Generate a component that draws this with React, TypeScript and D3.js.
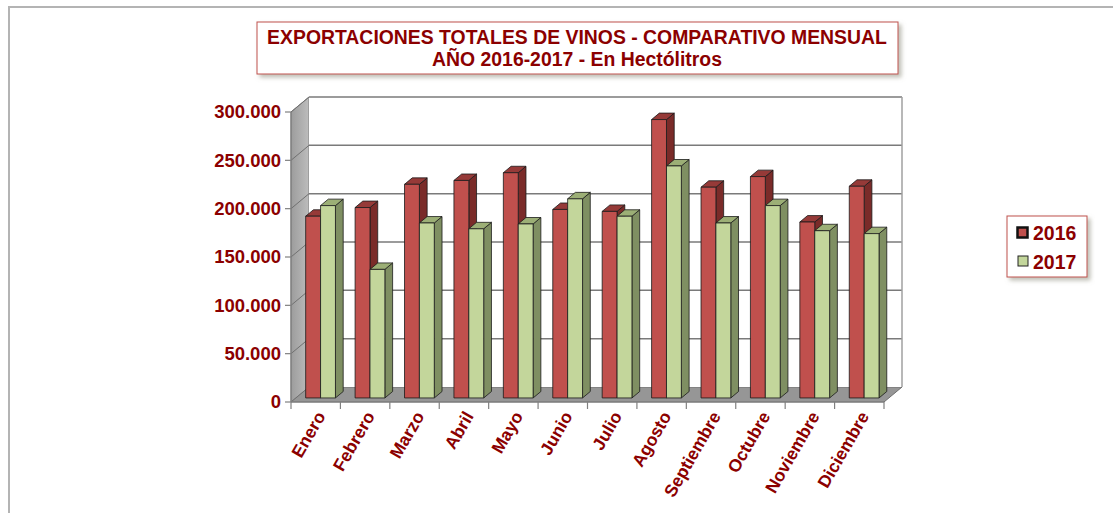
import React from 'react';
import * as d3 from 'd3';

const categories = ['Enero', 'Febrero', 'Marzo', 'Abril', 'Mayo', 'Junio', 'Julio', 'Agosto', 'Septiembre', 'Octubre', 'Noviembre', 'Diciembre'];
const seriesNames = ['2016', '2017'];
const values2016 = [188000, 197000, 221000, 225000, 233000, 195000, 193000, 288000, 218000, 229000, 182000, 219000];
const values2017 = [199000, 133000, 181000, 175000, 180000, 206000, 188000, 240000, 181000, 199000, 173000, 170000];
const yTicks = [0, 50000, 100000, 150000, 200000, 250000, 300000];
const titleLines = ['EXPORTACIONES TOTALES DE VINOS - COMPARATIVO MENSUAL', 'AÑO 2016-2017 - En Hectólitros'];

const W = 1113;
const H = 513;
const DX = 18;
const DY = 15;
const Z0 = 0.27;
const Z1 = 0.7;
const LABEL = '#8b0000';

const faceColors = [
  { front: '#c0504d', side: '#7a2b29', top: '#963a38' },
  { front: '#c3d69b', side: '#7f8f62', top: '#9caf76' },
];

const fmt = (v: number) => d3.format(',')(v).replace(/,/g, '.');

const App = () => {
  const x = d3.scaleBand().domain(categories).range([291, 884]);
  const inner = d3.scaleBand().domain(seriesNames).range([0, x.bandwidth()]).paddingInner(0).paddingOuter(0.66);
  const y = d3.scaleLinear().domain([0, 300000]).range([402, 112]);
  const vMax = 300000;

  const P = (px: number, v: number, z: number): [number, number] => [px + z * DX, y(v) - z * DY];
  const poly = (pts: [number, number][]) => d3.line()(pts) + 'Z';

  const x0 = 291;
  const x1 = 884;
  const series = [values2016, values2017];

  const bars: JSX.Element[] = [];
  categories.forEach((c, i) => {
    seriesNames.forEach((s, j) => {
      const v = series[j][i];
      const a = (x(c) as number) + (inner(s) as number);
      const b = a + inner.bandwidth();
      const col = faceColors[j];
      bars.push(
        <g key={c + s} stroke="#1a1a1a" strokeWidth={0.8} strokeLinejoin="round">
          <path d={poly([P(b, 0, Z0), P(b, 0, Z1), P(b, v, Z1), P(b, v, Z0)])} fill={col.side} />
          <path d={poly([P(a, v, Z0), P(b, v, Z0), P(b, v, Z1), P(a, v, Z1)])} fill={col.top} />
          <path d={poly([P(a, 0, Z0), P(b, 0, Z0), P(b, v, Z0), P(a, v, Z0)])} fill={col.front} />
        </g>
      );
    });
  });

  return (
    <svg width={W} height={H} style={{ position: 'absolute', left: 0, top: 0 }} fontFamily="'Liberation Sans', Arial, sans-serif">
      <defs>
        <linearGradient id="wall" x1="0" x2="1" y1="0" y2="0">
          <stop offset="0%" stopColor="#9c9c9c" />
          <stop offset="100%" stopColor="#bdbdbd" />
        </linearGradient>
        <filter id="shadow" x="-10%" y="-30%" width="120%" height="170%">
          <feDropShadow dx="3" dy="3" stdDeviation="2" floodColor="#8a8a7a" floodOpacity="0.55" />
        </filter>
      </defs>

      <rect x={0} y={0} width={W} height={H} fill="#fff" />
      <path d={`M9,${H} V7 H${W}`} fill="none" stroke="#b4b4b4" strokeWidth={2} />

      {/* title */}
      <rect x={257} y={22} width={641} height={52} fill="#fff" stroke="#c0504d" strokeWidth={1} filter="url(#shadow)" />
      {titleLines.map((t, i) => (
        <text key={t} x={577} y={44 + i * 22} textAnchor="middle" fontSize={19.4} fontWeight="bold" fill={LABEL}>{t}</text>
      ))}

      {/* walls */}
      <path d={poly([P(x0, 0, 0), P(x0, 0, 1), P(x0, vMax, 1), P(x0, vMax, 0)])} fill="url(#wall)" stroke="#808080" strokeWidth={1} />
      <path d={poly([P(x0, 0, 0), P(x1, 0, 0), P(x1, 0, 1), P(x0, 0, 1)])} fill="#969696" stroke="#6e6e6e" strokeWidth={1} />
      <path d={poly([P(x0, 0, 1), P(x1, 0, 1), P(x1, vMax, 1), P(x0, vMax, 1)])} fill="#fff" stroke="none" />
      {yTicks.filter(t => t > 0).map(t => (
        <g key={t} stroke="#7a7a7a" strokeWidth={1.5} fill="none">
          <path d={d3.line()([P(x0, t, 1), P(x1, t, 1)]) as string} />
          <path d={d3.line()([P(x0, t, 0), P(x0, t, 1)]) as string} strokeWidth={1} stroke="#707070" />
        </g>
      ))}
      <path d={d3.line()([P(x1, 0, 1), P(x1, vMax, 1)]) as string} stroke="#a0a0a0" strokeWidth={1.5} />

      {bars}

      {/* axes */}
      <g stroke="#808080" strokeWidth={1.2} fill="none">
        <line x1={x0} x2={x0} y1={y(0)} y2={y(vMax)} />
        {yTicks.map(t => <line key={t} x1={x0 - 6} x2={x0} y1={y(t)} y2={y(t)} />)}
        <line x1={x0} x2={x1} y1={y(0)} y2={y(0)} />
        {[...categories.map(c => x(c) as number), x1].map((px, i) => (
          <line key={i} x1={px} x2={px} y1={y(0)} y2={y(0) + 7} />
        ))}
      </g>
      {yTicks.map(t => (
        <text key={t} x={281} y={y(t)} dy="0.35em" textAnchor="end" fontSize={18.5} fontWeight="bold" fill={LABEL}>{fmt(t)}</text>
      ))}
      {categories.map(c => {
        const cx = (x(c) as number) + x.bandwidth() / 2 + 5;
        const cy = y(0) + 11;
        return (
          <text key={c} transform={`translate(${cx},${cy}) rotate(-60)`} textAnchor="end" dy="0.35em" fontSize={17.5} fontWeight="bold" fill={LABEL}>{c}</text>
        );
      })}

      {/* legend */}
      <rect x={1007} y={216} width={80} height={61} fill="#fff" stroke="#c0504d" strokeWidth={1} filter="url(#shadow)" />
      <rect x={1017.5} y={227.5} width={10} height={10} fill={faceColors[0].front} stroke="#111" strokeWidth={2.5} />
      <rect x={1018} y={256} width={10} height={10} fill={faceColors[1].front} stroke="#222" strokeWidth={1} />
      {seriesNames.map((s, i) => (
        <text key={s} x={1033} y={233 + i * 29} dy="0.35em" fontSize={19.5} fontWeight="bold" fill={LABEL}>{s}</text>
      ))}
    </svg>
  );
};

export default App;
